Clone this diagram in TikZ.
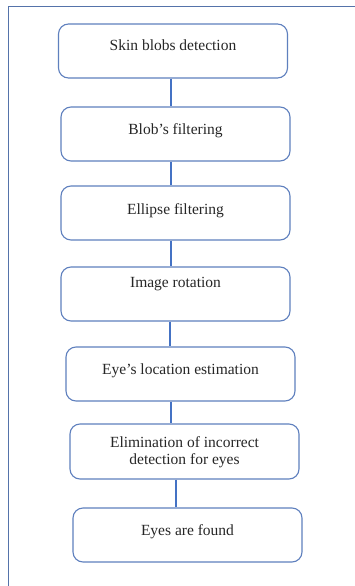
\documentclass[tikz,border=0pt]{standalone}
\usepackage{fontspec}
\setmainfont{Liberation Serif}
\definecolor{boxline}{RGB}{95,128,190}
\definecolor{connline}{RGB}{68,114,196}
\definecolor{frameline}{RGB}{85,115,170}
\begin{document}
\begin{tikzpicture}[x=1pt,y=-1pt,
  stepbox/.style={draw=boxline,line width=1.1pt,rounded corners=10pt,inner sep=0pt,
    minimum width=229pt,minimum height=54pt,fill=white},
  txt/.style={font=\fontsize{15.5}{17}\selectfont,anchor=base,inner sep=0pt,text=black!85},
  conn/.style={draw=connline,line width=1.7pt},
  frame/.style={draw=frameline,line width=1pt}]
\useasboundingbox (0,0) rectangle (355,586);
\fill[white] (0,0) rectangle (355,586);
% outer frame (top and left edges)
\coordinate (fa) at (8,7);
\coordinate (fb) at (355,7);
\coordinate (fc) at (8,586);
\draw[frame] (fb) -- (fa) -- (fc);
% boxes
\node[stepbox] (b1) at (173,51) {};
\node[stepbox] (b2) at (175.5,134) {};
\node[stepbox] (b3) at (175.5,213) {};
\node[stepbox] (b4) at (175.5,294) {};
\node[stepbox] (b5) at (180.5,374) {};
\node[stepbox,minimum height=55pt] (b6) at (184.5,451.5) {};
\node[stepbox] (b7) at (187.5,535) {};
% texts
\node[txt] (t1) at (173,51) {Skin blobs detection};
\node[txt] (t2) at (175.5,134) {Blob’s filtering};
\node[txt] (t3) at (175.5,214) {Ellipse filtering};
\node[txt] (t4) at (175.5,287) {Image rotation};
\node[txt] (t5) at (180.5,374) {Eye’s location estimation};
\node[txt,anchor=center,align=center] (t6) at (184.5,452) {Elimination of incorrect\\detection for eyes};
\node[txt] (t7) at (187.5,535) {Eyes are found};
% connectors
\coordinate (c1) at (171,0);
\coordinate (c2) at (171,0);
\coordinate (c3) at (171,0);
\coordinate (c4) at (170,0);
\coordinate (c5) at (171,0);
\coordinate (c6) at (176,0);
\draw[conn] (b1.south -| c1) -- (b2.north -| c1);
\draw[conn] (b2.south -| c2) -- (b3.north -| c2);
\draw[conn] (b3.south -| c3) -- (b4.north -| c3);
\draw[conn] (b4.south -| c4) -- (b5.north -| c4);
\draw[conn] (b5.south -| c5) -- (b6.north -| c5);
\draw[conn] (b6.south -| c6) -- (b7.north -| c6);
\end{tikzpicture}
\end{document}
